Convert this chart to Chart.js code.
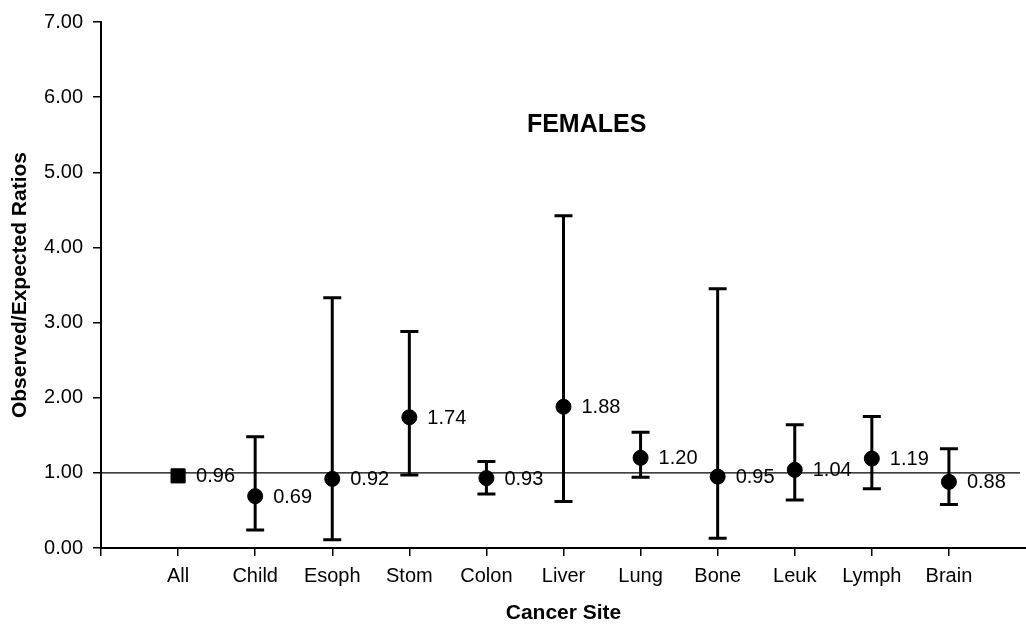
<!DOCTYPE html>
<html>
<head>
<meta charset="utf-8">
<script src="https://cdn.jsdelivr.net/npm/chart.js@4"></script>
<style>
  html, body { margin: 0; padding: 0; background: #fff; }
  #wrap { width: 1026px; height: 626px; }
</style>
</head>
<body>
<div id="wrap"><canvas id="oe"></canvas></div>
<script>
// cancer sites and observed/expected ratios with 95% limits
var sites = ['All','Child','Esoph','Stom','Colon','Liver','Lung','Bone','Leuk','Lymph','Brain'];
var ratio = [0.96, 0.69, 0.92, 1.74, 0.93, 1.88, 1.20, 0.95, 1.04, 1.19, 0.88];
var lower = [0.92, 0.24, 0.11, 0.97, 0.72, 0.62, 0.94, 0.13, 0.64, 0.79, 0.58];
var upper = [1.00, 1.48, 3.33, 2.88, 1.15, 4.42, 1.54, 3.45, 1.64, 1.75, 1.32];
var yTicks = [0, 1, 2, 3, 4, 5, 6, 7];

Chart.defaults.font.family = '"Liberation Sans", Arial, sans-serif';
Chart.defaults.color = '#000';

var points = ratio.map(function (v, i) { return { x: i, y: v }; });

// error bars, reference line, value labels and panel title
var extras = {
  id: 'extras',
  beforeDatasetsDraw: function (chart) {
    var ctx = chart.ctx, xs = chart.scales.x, ys = chart.scales.y, a = chart.chartArea;
    ctx.save();
    ctx.strokeStyle = '#000';
    // line at O/E = 1
    ctx.lineWidth = 1.3;
    var y1 = ys.getPixelForValue(1);
    ctx.beginPath();
    ctx.moveTo(a.left, y1);
    ctx.lineTo(a.right - 6, y1);
    ctx.stroke();
    // confidence limits
    ctx.lineWidth = 3;
    for (var i = 0; i < sites.length; i++) {
      var px = xs.getPixelForValue(i);
      var pl = ys.getPixelForValue(lower[i]);
      var pu = ys.getPixelForValue(upper[i]);
      ctx.beginPath();
      ctx.moveTo(px, pl); ctx.lineTo(px, pu);
      if (i > 0) {
        ctx.moveTo(px - 9, pl); ctx.lineTo(px + 9, pl);
        ctx.moveTo(px - 9, pu); ctx.lineTo(px + 9, pu);
      }
      ctx.stroke();
    }
    ctx.restore();
  },
  afterDatasetsDraw: function (chart) {
    var ctx = chart.ctx, xs = chart.scales.x, ys = chart.scales.y;
    ctx.save();
    ctx.fillStyle = '#000';
    ctx.font = '20px "Liberation Sans", Arial, sans-serif';
    ctx.textAlign = 'left';
    ctx.textBaseline = 'middle';
    for (var i = 0; i < sites.length; i++) {
      ctx.fillText(ratio[i].toFixed(2), xs.getPixelForValue(i) + 18, ys.getPixelForValue(ratio[i]) + 1);
    }
    ctx.font = 'bold 25px "Liberation Sans", Arial, sans-serif';
    ctx.textAlign = 'center';
    ctx.fillText('FEMALES', xs.getPixelForValue(5.3), ys.getPixelForValue(5.63));
    ctx.restore();
  }
};

new Chart(document.getElementById('oe'), {
  type: 'scatter',
  data: {
    datasets: [{
      data: points,
      backgroundColor: '#000',
      borderColor: '#000',
      pointStyle: ratio.map(function (v, i) { return i === 0 ? 'rect' : 'circle'; }),
      pointRadius: ratio.map(function (v, i) { return i === 0 ? 10 : 7.5; }),
      pointHoverRadius: ratio.map(function (v, i) { return i === 0 ? 10 : 7.5; })
    }]
  },
  options: {
    responsive: true,
    maintainAspectRatio: false,
    animation: false,
    layout: { autoPadding: false, padding: { top: 20, right: 0, left: 8, bottom: 0 } },
    plugins: { legend: { display: false }, tooltip: { enabled: false } },
    scales: {
      x: {
        type: 'linear',
        min: -1,
        max: 11,
        afterBuildTicks: function (s) {
          s.ticks = [-1].concat(sites.map(function (n, i) { return i; })).concat([11]).map(function (v) { return { value: v }; });
        },
        afterFit: function (s) { s.height = 78; s.paddingRight = 0; },
        ticks: {
          callback: function (v) { return sites[v] || ''; },
          font: { size: 20 },
          padding: 8,
          maxRotation: 0,
          autoSkip: false
        },
        grid: {
          drawOnChartArea: false,
          tickLength: 8,
          color: '#000',
          tickColor: function (c) { return c.tick && c.tick.value === 11 ? 'rgba(0,0,0,0)' : '#000'; },
          lineWidth: 1.5
        },
        border: { color: '#000', width: 2 },
        title: { display: true, text: 'Cancer Site', font: { size: 21, weight: 'bold' }, padding: { top: 2, bottom: 0 } }
      },
      y: {
        min: 0,
        max: 7,
        afterBuildTicks: function (s) {
          s.ticks = yTicks.map(function (v) { return { value: v }; });
        },
        afterFit: function (s) { s.width = 93; },
        ticks: {
          callback: function (v) { return v.toFixed(2); },
          font: { size: 20 },
          padding: 10
        },
        grid: { drawOnChartArea: false, tickLength: 8, color: '#000', lineWidth: 1.5 },
        border: { color: '#000', width: 2 },
        title: { display: true, text: 'Observed/Expected Ratios', font: { size: 21, weight: 'bold' }, padding: { top: 0, bottom: 2 } }
      }
    }
  },
  plugins: [extras]
});
</script>
</body>
</html>
